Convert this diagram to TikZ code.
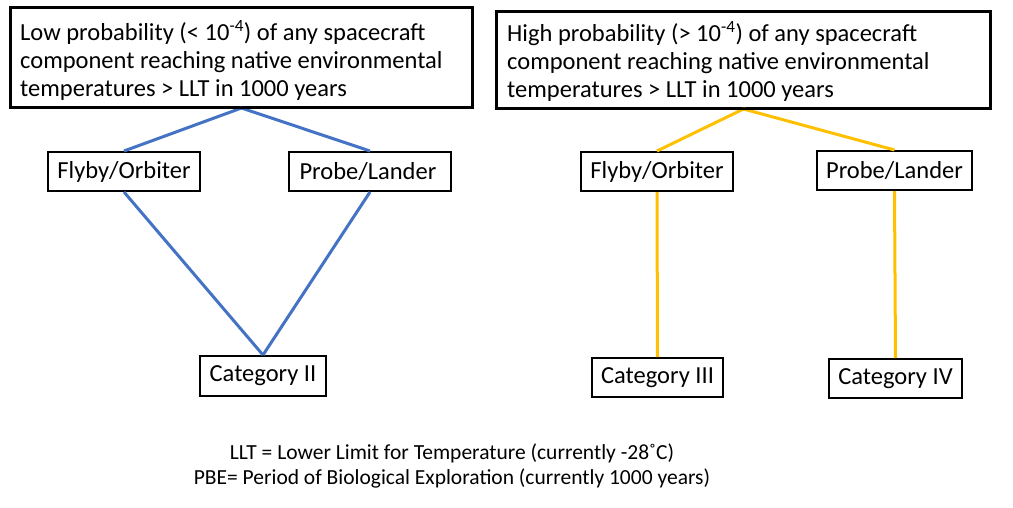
\documentclass[tikz,border=0pt]{standalone}
\usepackage{fontspec}
\setmainfont{Carlito}
\definecolor{lineblue}{HTML}{4472C4}
\definecolor{lineyellow}{HTML}{FFC000}
\begin{document}
\begin{tikzpicture}[x=1pt,y=-1pt,
  box/.style={draw=black,line width=2pt,inner sep=0pt,font=\fontsize{24.5}{28}\selectfont},
  boxtext/.style={anchor=north west,align=left,inner sep=0pt,font=\fontsize{24.5}{28}\selectfont},
  blue line/.style={draw=lineblue,line width=3pt},
  yellow line/.style={draw=lineyellow,line width=3pt},
  note/.style={font=\fontsize{21.5}{25}\selectfont}]
\useasboundingbox (0,0) rectangle (1013,507);
% top boxes
\node[box,minimum width=461pt,minimum height=99pt] (top1) at (241.5,57.5) {};
\node[boxtext] (top1t) at (20,20)
 {Low probability (< 10\textsuperscript{-4}) of any spacecraft\\component reaching native environmental\\temperatures > LLT in 1000 years};
\node[box,minimum width=493pt,minimum height=96pt] (top2) at (743.5,60) {};
\node[boxtext] (top2t) at (507,21)
 {High probability (> 10\textsuperscript{-4}) of any spacecraft\\component reaching native environmental\\temperatures > LLT in 1000 years};
% left branch
\node[box,minimum width=152pt,minimum height=39pt] (fo1) at (124,171.5) {Flyby/Orbiter};
\node[box,minimum width=162pt,minimum height=39pt] (pl1) at (370,171.5) {Probe/Lander\,};
\node[box,minimum width=126pt,minimum height=40pt] (c2) at (263,376) {Category II};
% right branch
\node[box,minimum width=152pt,minimum height=39pt] (fo2) at (657,171.5) {Flyby/Orbiter};
\node[box,minimum width=155pt,minimum height=39pt] (pl2) at (894.5,170.5) {Probe/Lander};
\node[box,minimum width=131pt,minimum height=39pt] (c3) at (657.5,377.5) {Category III};
\node[box,minimum width=133pt,minimum height=39pt] (c4) at (895.5,378.5) {Category IV};
% connectors
\draw[blue line] (top1.south) -- (fo1.north);
\draw[blue line] (top1.south) -- (pl1.north);
\draw[blue line] (fo1.south) -- (c2.north);
\draw[blue line] (pl1.south) -- (c2.north);
\draw[yellow line] (top2.south) -- (fo2.north);
\draw[yellow line] (top2.south) -- (pl2.north);
\draw[yellow line] (fo2.south) -- (c3.north);
\draw[yellow line] (pl2.south) -- (c4.north);
% redraw box borders over line ends
\draw[line width=2pt] (top1.south west) rectangle (top1.north east);
\draw[line width=2pt] (top2.south west) rectangle (top2.north east);
% notes
\node[note] (n1) at (452,453) {LLT = Lower Limit for Temperature (currently -28˚C)};
\node[note] (n2) at (452,478) {PBE= Period of Biological Exploration (currently 1000 years)};
\end{tikzpicture}
\end{document}
